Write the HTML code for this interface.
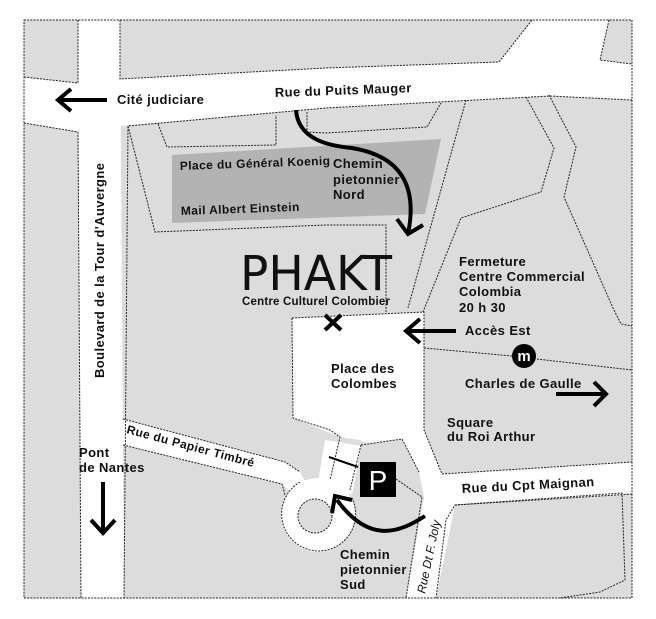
<!DOCTYPE html>
<html><head><meta charset="utf-8"><style>
html,body{margin:0;padding:0;background:#fff}
svg{display:block}
text{font-family:"Liberation Sans",sans-serif;font-weight:bold;font-size:13px;letter-spacing:0.4px;fill:#111}
.d{fill:none;stroke:#222;stroke-width:1;stroke-dasharray:2 1.2}
.a{fill:none;stroke:#000;stroke-width:4;stroke-linecap:butt;stroke-linejoin:miter}
</style></head><body>
<svg width="656" height="619" viewBox="0 0 656 619" xmlns="http://www.w3.org/2000/svg">
<rect x="0" y="0" width="656" height="619" fill="#fff"/>
<rect x="24" y="20" width="608" height="578" fill="#dcdcdc"/>
<polygon points="78,20 120,20 124,598 81,598" fill="#fff"/>
<polygon points="24,77 79,83 79,132 24,123" fill="#fff"/>
<polygon points="120,79 326,68 499,62 532,20 609,20 600,60 632,64 632,100 550,96 326,108 120,126" fill="#fff"/>
<polygon points="292,318 424,312 424,430 442,474 632,462 632,494 455,505 436,598 406,598 418,500 400,460 360,440 340,437 293,418" fill="#fff"/>
<polygon points="123,419 285,462 300,472 310,490 300,500 282,484 123,445" fill="#fff"/>
<polygon points="325,440 362,446 352,495 318,482" fill="#fff"/>
<circle cx="318" cy="515" r="37" fill="#fff"/>
<polygon points="361,445 402,439 419,472 424,497 406,598 356,598 352,545 356,505 353,492" fill="#dcdcdc"/>
<circle cx="315" cy="516" r="17" fill="#dcdcdc"/>
<circle cx="315" cy="516" r="17" class="d"/>
<polygon points="172,155 441,139 425,214 172,223" fill="#b3b3b3"/>
<rect x="24" y="20" width="608" height="578" class="d"/>
<polyline class="d" points="78,20 78,83 24,77"/>
<polyline class="d" points="24,123 78,132 81,598"/>
<polyline class="d" points="120,20 120,79 326,68 499,62 532,20"/>
<polyline class="d" points="609,20 600,60 632,64"/>
<polyline class="d" points="632,100 550,96 326,108 128,126 124,598"/>
<polyline class="d" points="128,126 155,232 326,225 386,225 386,312"/>
<polyline class="d" points="158,124 167,147 276,145 276,115"/>
<polyline class="d" points="307,112 307,132 326,133 427,127 441,103"/>
<polyline class="d" points="466,100 408,308"/>
<polyline class="d" points="526,97 554,148 541,192 461,218 423,312"/>
<polyline class="d" points="549,95 576,147 564,197 613,308 621,324 632,326"/>
<polyline class="d" points="292,318 424,312 424,430 442,474 632,462"/>
<polyline class="d" points="424,348 512,356"/>
<polyline class="d" points="537,359 632,370"/>
<polyline class="d" points="292,318 293,418 330,430 340,437 330,480"/>
<polyline class="d" points="123,419 285,462 300,472"/>
<polyline class="d" points="123,445 282,484 285,495"/>
<path class="d" d="M300,482 A37,37 0 1,0 352,498"/>
<polyline class="d" points="361,445 402,439 419,472"/>
<polyline class="d" points="396,479 422,497 406,598"/>
<polyline class="d" points="361,445 350,490"/>
<polyline class="d" points="632,494 455,505 446,520 436,598"/>
<polyline class="d" points="455,505 622,493 625,580 600,592 560,598"/>
<line class="a" x1="60" y1="100" x2="107" y2="100"/>
<polyline class="a" points="71,89 58,100 71,111"/>
<path class="a" d="M296,110 C298,140 330,146 352,148 C400,156 418,185 408,234"/>
<polyline class="a" points="397,219 408,234 423,225"/>
<line class="a" x1="325" y1="315" x2="341" y2="330"/>
<line class="a" x1="341" y1="315" x2="325" y2="330"/>
<line class="a" x1="407" y1="331" x2="456" y2="331"/>
<polyline class="a" points="420,319 406,331 420,343"/>
<circle cx="524" cy="356" r="12" fill="#000"/>
<text x="524" y="361" text-anchor="middle" style="fill:#fff;font-size:15px;letter-spacing:0">m</text>
<line class="a" x1="556" y1="394" x2="606" y2="394"/>
<polyline class="a" points="594,382 606,394 594,406"/>
<line class="a" x1="103" y1="482" x2="103" y2="533"/>
<polyline class="a" points="91,520 103,533 115,520"/>
<path class="a" d="M425,516 C400,532 370,545 337,500"/>
<polyline class="a" points="332,513 335,496 352,500"/>
<line x1="329" y1="457" x2="358" y2="467" stroke="#000" stroke-width="2"/>
<rect x="360" y="462" width="36" height="35" fill="#000"/>
<text x="378" y="490" text-anchor="middle" style="fill:#fff;font-size:28px;font-weight:normal;letter-spacing:0">P</text>
<text x="117" y="104">Cité judiciare</text>
<text x="275" y="97" transform="rotate(-2 275 97)">Rue du Puits Mauger</text>
<text x="180" y="170" style="font-size:12px" transform="rotate(-2 180 170)">Place du Général Koenig</text>
<text x="181" y="215" style="font-size:12px" transform="rotate(-2 181 215)">Mail Albert Einstein</text>
<text x="333" y="168">Chemin</text>
<text x="333" y="184">pietonnier</text>
<text x="333" y="199">Nord</text>
<text x="240" y="290" textLength="152" lengthAdjust="spacingAndGlyphs" style="font-size:48px;font-weight:normal;letter-spacing:0;font-family:'DejaVu Sans',sans-serif">PHAKT</text>
<text x="242" y="305" style="font-size:11.5px;letter-spacing:0.2px">Centre Culturel Colombier</text>
<text x="459" y="266">Fermeture</text>
<text x="459" y="281">Centre Commercial</text>
<text x="459" y="296">Colombia</text>
<text x="459" y="312">20 h 30</text>
<text x="465" y="335">Accès Est</text>
<text x="331" y="373">Place des</text>
<text x="331" y="388">Colombes</text>
<text x="465" y="388">Charles de Gaulle</text>
<text x="447" y="427">Square</text>
<text x="447" y="441">du Roi Arthur</text>
<text x="462" y="493" transform="rotate(-3 462 493)">Rue du Cpt Maignan</text>
<text x="79" y="457">Pont</text>
<text x="79" y="472">de Nantes</text>
<text x="126" y="433" style="font-size:12px" transform="rotate(15 126 433)">Rue du Papier Timbré</text>
<text x="104" y="378" transform="rotate(-90 104 378)">Boulevard de la Tour d'Auvergne</text>
<text x="340" y="559">Chemin</text>
<text x="340" y="574">pietonnier</text>
<text x="340" y="589">Sud</text>
<text x="425" y="594" style="font-size:12px;font-style:italic;font-weight:normal;letter-spacing:0" transform="rotate(-78 425 594)">Rue Dt F. Joly</text>
</svg>
</body></html>
